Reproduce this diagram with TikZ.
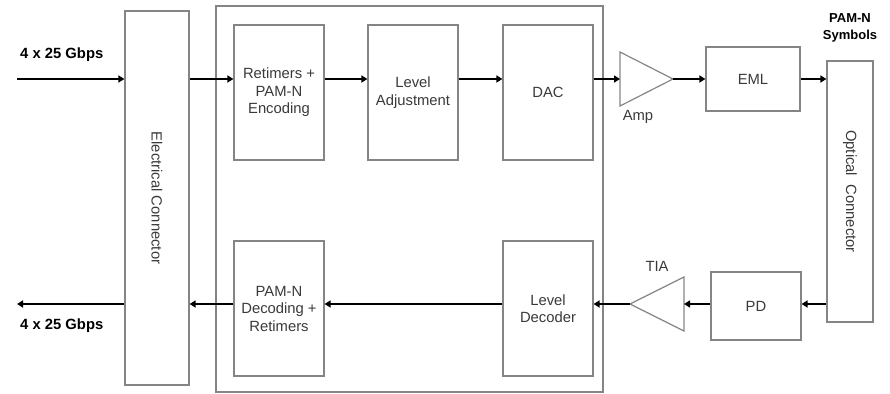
\documentclass[tikz,border=0pt]{standalone}
\usepackage{fontspec}
\setmainfont{Liberation Sans}
\usetikzlibrary{arrows.meta}
\definecolor{edgegray}{HTML}{858585}
\definecolor{textgray}{HTML}{3A3A3A}
\tikzset{
  block/.style={draw=edgegray, line width=1.2pt, fill=white, inner sep=0pt,
    text=textgray, align=center, font=\fontsize{14.8}{17.5}\selectfont},
  amptri/.style={draw=edgegray, line width=1.2pt},
  sig/.style={line width=2.2pt, -{Triangle[length=6pt,width=7pt]}},
  lbl/.style={text=textgray, font=\fontsize{14.8}{17.5}\selectfont, inner sep=0pt},
  rate/.style={font=\bfseries\fontsize{14.8}{17}\selectfont, inner sep=0pt},
}
\begin{document}
\begin{tikzpicture}[x=1pt, y=-1pt]
\useasboundingbox (0,0) rectangle (890,393);

% module enclosure
\draw[edgegray, line width=1.2pt] (216,6) rectangle (603,392);

% connectors
\node[block, minimum width=64pt, minimum height=374pt] (elec) at (157,198) {};
\node[lbl, rotate=-90] at (elec.center) {Electrical Connector};
\node[block, minimum width=46pt, minimum height=261pt] (opt) at (850,191.5) {};
\node[lbl, rotate=-90] at (opt.center) {Optical\ \ Connector};

% transmit path
\node[block, minimum width=90pt, minimum height=135pt] (enc) at (279,92.5) {Retimers +\\PAM-N\\Encoding};
\node[block, minimum width=90pt, minimum height=135pt] (lvl) at (413,92.5) {Level\\Adjustment};
\node[block, minimum width=90pt, minimum height=135pt] (dac) at (548,92.5) {DAC};
\node[block, minimum width=94pt, minimum height=64pt] (eml) at (753,79) {EML};
\draw[amptri] (620,52) -- (620,106) -- (673,79) -- cycle;
\coordinate (ampin) at (620,79);
\coordinate (ampout) at (673,79);
\node[lbl] (amplbl) at (638,117) {Amp};

% receive path
\node[block, minimum width=90pt, minimum height=135pt] (dec) at (279,308.5) {PAM-N\\Decoding +\\Retimers};
\node[block, minimum width=90pt, minimum height=135pt] (ldec) at (548,308.5) {Level\\Decoder};
\node[block, minimum width=90pt, minimum height=68pt] (pd) at (756,306) {PD};
\draw[amptri] (684,277) -- (684,331) -- (630,304) -- cycle;
\coordinate (tiain) at (684,304);
\coordinate (tiaout) at (630,304);
\node[lbl] (tialbl) at (657,266) {TIA};

% line-side labels
\node[rate, anchor=west] (inrate) at (20,55) {4 x 25 Gbps};
\node[rate, anchor=west] (outrate) at (20,326) {4 x 25 Gbps};
\node[rate, align=center, font=\bfseries\fontsize{13}{17}\selectfont] (sym) at (850,28) {PAM-N\\Symbols};

\coordinate (hostin) at (17,79);
\coordinate (hostout) at (17,304);

% signal flow, transmit
\draw[sig] (hostin) -- (elec.west |- hostin);
\draw[sig] (elec.east |- hostin) -- (enc.west |- hostin);
\draw[sig] (enc.east |- hostin) -- (lvl.west |- hostin);
\draw[sig] (lvl.east |- hostin) -- (dac.west |- hostin);
\draw[sig] (dac.east |- hostin) -- (ampin);
\draw[sig] (ampout) -- (eml.west);
\draw[sig] (eml.east) -- (opt.west |- eml.east);

% signal flow, receive
\draw[sig] (opt.west |- hostout) -- (pd.east |- hostout);
\draw[sig] (pd.west |- hostout) -- (tiain);
\draw[sig] (tiaout) -- (ldec.east |- hostout);
\draw[sig] (ldec.west |- hostout) -- (dec.east |- hostout);
\draw[sig] (dec.west |- hostout) -- (elec.east |- hostout);
\draw[sig] (elec.west |- hostout) -- (hostout);
\end{tikzpicture}
\end{document}
